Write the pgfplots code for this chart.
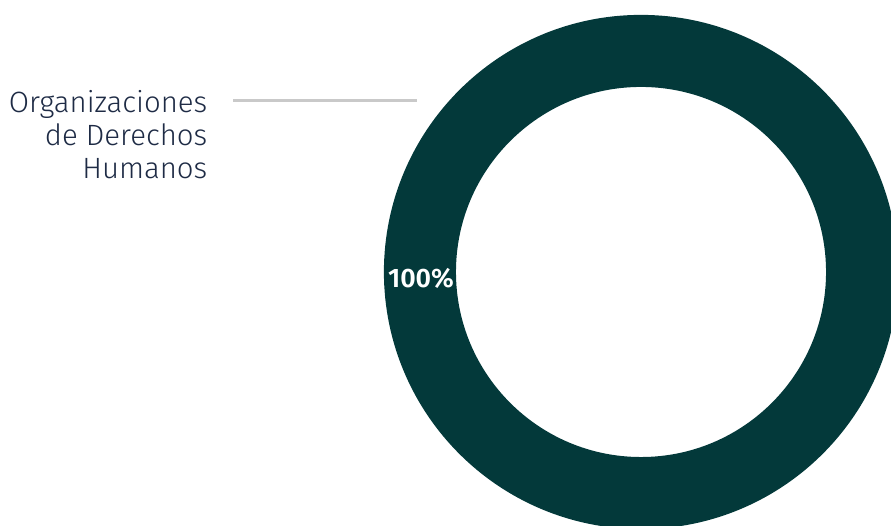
\documentclass[border=0pt]{standalone}
\usepackage{pgfplots}
\pgfplotsset{compat=1.18}
\usepackage{fontspec}
\setmainfont{Fira Sans}[UprightFont={* Light}, BoldFont={* SemiBold}]
\definecolor{ring}{HTML}{03393A}
\definecolor{lbl}{HTML}{1E2B45}
\definecolor{leader}{HTML}{C9C9C9}
\begin{document}
\begin{tikzpicture}
\begin{axis}[
  scale only axis, width=8.91cm, height=5.26cm,
  xmin=0, xmax=891, ymin=0, ymax=526,
  hide axis, clip=true, clip marker paths=true,
]
% one share: Organizaciones de Derechos Humanos = 100 %
\addplot[only marks, mark=o, mark size=62.9pt, color=ring,
  mark options={line width=20.5pt}] coordinates {(641,254)};
\draw[leader, line width=0.85pt] (axis cs:233,425) -- (axis cs:417,425);
\node[anchor=east, align=right, text=lbl, font=\fontsize{8.35}{9.4}\selectfont, inner sep=0pt]
  at (axis cs:208,391) {Organizaciones\\de Derechos\\Humanos};
\node[text=white, font=\bfseries\fontsize{7.6}{8}\selectfont, inner sep=0pt]
  at (axis cs:421,248) {100\%};
\end{axis}
\pgfresetboundingbox
\useasboundingbox (current axis.south west) rectangle (current axis.north east);
\end{tikzpicture}
\end{document}
